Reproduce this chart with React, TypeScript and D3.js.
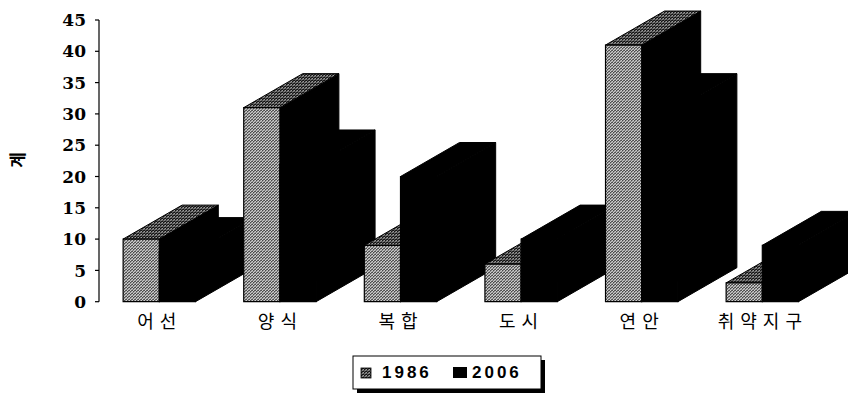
import React from "react";
import * as d3 from "d3";

const categories = ["어 선", "양 식", "복 합", "도 시", "연 안", "취 약 지 구"];
const seriesNames = ["1986", "2006"];
const values1986 = [10, 31, 9, 6, 41, 3];
const values2006 = [8, 22, 20, 10, 31, 9];
const yTicks = [0, 5, 10, 15, 20, 25, 30, 35, 40, 45];
const yLabel = "계";

const W = 848;
const H = 393;
const axisX = 99;
const DX = 59;
const DY = 34;

export default function App() {
  const y = d3.scaleLinear().domain([0, 45]).range([301.7, 20]);
  const x = d3
    .scaleBand<string>()
    .domain(categories)
    .range([axisX, axisX + 6 * 120.6])
    .paddingInner(0.4)
    .paddingOuter(0.2);
  const xs = d3.scaleBand<string>().domain(seriesNames).range([0, x.bandwidth()]);
  const seriesValues = [values1986, values2006];
  const y0 = y(0);

  const bars: JSX.Element[] = [];
  categories.forEach((c, ci) => {
    seriesNames.forEach((s, si) => {
      const v = seriesValues[si][ci];
      const x0 = (x(c) as number) + (xs(s) as number);
      const w = xs.bandwidth();
      const yv = y(v);
      const front = `M${x0},${yv}L${x0 + w},${yv}L${x0 + w},${y0}L${x0},${y0}Z`;
      const top = `M${x0},${yv}L${x0 + DX},${yv - DY}L${x0 + w + DX},${yv - DY}L${x0 + w},${yv}Z`;
      const side = `M${x0 + w},${yv}L${x0 + w + DX},${yv - DY}L${x0 + w + DX},${y0 - DY}L${x0 + w},${y0}Z`;
      const isOld = si === 0;
      bars.push(
        <g key={`${ci}-${si}`}>
          <path d={side} fill="#000" stroke="#000" strokeWidth={1} />
          <path d={top} fill={isOld ? "url(#texTop)" : "#000"} stroke="#000" strokeWidth={1} />
          <path d={front} fill={isOld ? "url(#texFront)" : "#000"} stroke="#000" strokeWidth={1.2} />
        </g>
      );
    });
  });

  return (
    <svg
      width={W}
      height={H}
      style={{ position: "absolute", left: 0, top: 0, background: "#fff" }}
    >
      <defs>
        <pattern id="texFront" width={3} height={3} patternUnits="userSpaceOnUse">
          <rect width={3} height={3} fill="#8e8e8e" />
          <rect x={0} y={0} width={1} height={1} fill="#cfcfcf" />
          <rect x={2} y={1} width={1} height={1} fill="#c6c6c6" />
          <rect x={1} y={2} width={1} height={1} fill="#d2d2d2" />
          <rect x={1} y={0} width={1} height={1} fill="#4a4a4a" />
          <rect x={0} y={2} width={1} height={1} fill="#505050" />
          <rect x={2} y={2} width={1} height={1} fill="#5a5a5a" />
        </pattern>
        <pattern id="texTop" width={3} height={3} patternUnits="userSpaceOnUse">
          <rect width={3} height={3} fill="#555" />
          <rect x={0} y={0} width={1} height={1} fill="#a0a0a0" />
          <rect x={2} y={1} width={1} height={1} fill="#8a8a8a" />
          <rect x={1} y={0} width={1} height={1} fill="#111" />
          <rect x={0} y={2} width={1} height={1} fill="#151515" />
          <rect x={2} y={2} width={1} height={1} fill="#1a1a1a" />
        </pattern>
      </defs>
      <rect width={W} height={H} fill="#fff" />

      {/* y axis */}
      <line x1={axisX} x2={axisX} y1={y(45)} y2={y0} stroke="#000" strokeWidth={1.2} />
      {yTicks.map((t) => (
        <g key={t}>
          <line x1={axisX - 4} x2={axisX} y1={y(t)} y2={y(t)} stroke="#000" strokeWidth={1.2} />
          <text
            x={86}
            y={y(t)}
            dy="0.36em"
            textAnchor="end"
            fontFamily="'DejaVu Serif', serif"
            fontWeight="bold"
            fontSize={17}
            fill="#000"
          >
            {t}
          </text>
        </g>
      ))}
      <text
        transform="translate(18,160) rotate(-90)"
        textAnchor="middle"
        dy="0.35em"
        fontFamily="'Noto Sans CJK KR', sans-serif"
        fontWeight="bold"
        fontSize={17}
        fill="#000"
      >
        {yLabel}
      </text>

      {bars}

      {/* category labels */}
      {categories.map((c) => (
        <text
          key={c}
          x={(x(c) as number) + x.bandwidth() / 2 - 2}
          y={328}
          textAnchor="middle"
          fontFamily="'Noto Sans CJK KR', sans-serif"
          fontSize={18}
          letterSpacing={1}
          fill="#000"
        >
          {c}
        </text>
      ))}

      {/* legend */}
      <rect x={357} y={360} width={188} height={33} fill="#000" />
      <rect x={353} y={356} width={188} height={33} fill="#fff" stroke="#000" strokeWidth={1} />
      <rect x={361} y={368} width={10} height={10} fill="url(#texTop)" stroke="#000" strokeWidth={0.8} />
      <text
        x={382}
        y={378}
        fontFamily="'Liberation Sans', Arial, sans-serif"
        fontWeight="bold"
        fontSize={17}
        letterSpacing={3}
        fill="#000"
      >
        {seriesNames[0]}
      </text>
      <rect x={453} y={367} width={14} height={11} fill="#000" />
      <text
        x={472}
        y={378}
        fontFamily="'Liberation Sans', Arial, sans-serif"
        fontWeight="bold"
        fontSize={17}
        letterSpacing={3}
        fill="#000"
      >
        {seriesNames[1]}
      </text>
    </svg>
  );
}
